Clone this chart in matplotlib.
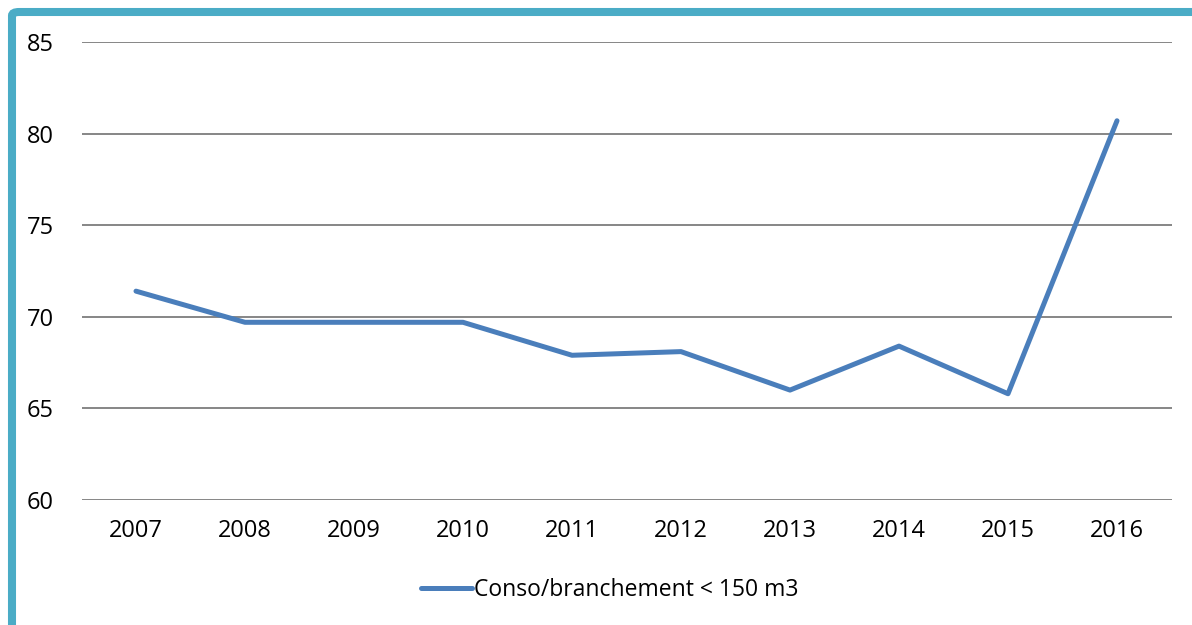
import matplotlib.pyplot as plt
from matplotlib.patches import FancyBboxPatch

years = ["2007", "2008", "2009", "2010", "2011", "2012", "2013", "2014", "2015", "2016"]
conso = [71.4, 69.7, 69.7, 69.7, 67.9, 68.1, 66.0, 68.4, 65.8, 80.7]
yticks = [60, 65, 70, 75, 80, 85]

W, H = 1192, 625
fig = plt.figure(figsize=(W / 100, H / 100), dpi=100)
plt.rcParams['font.family'] = ['Open Sans', 'DejaVu Sans']

# teal frame, only top and left visible
frame = FancyBboxPatch((12 / W, -0.2), 1.2, (H - 12) / H + 0.2,
                       boxstyle="round,pad=0,rounding_size=0.006",
                       transform=fig.transFigure, fill=False,
                       edgecolor="#4BACC6", linewidth=5.8, clip_on=False)
fig.patches.append(frame)

ax = fig.add_axes([81.5 / W, 1 - 500 / H, (1171.5 - 81.5) / W, (500 - 42) / H])
x = range(len(years))
ax.plot(x, conso, color="#4A7EBB", linewidth=3.6, solid_capstyle="round",
        label="Conso/branchement < 150 m3")
ax.set_xlim(-0.5, len(years) - 0.5)
ax.set_ylim(60, 85)
ax.set_yticks(yticks)
ax.set_xticks(list(x))
ax.set_xticklabels(years)
ax.grid(axis="y", color="#868686", linewidth=1.4)
ax.set_axisbelow(True)
for s in ax.spines.values():
    s.set_visible(False)
ax.tick_params(length=0, labelsize=17, colors="black")
ax.tick_params(axis="y", pad=20)
ax.tick_params(axis="x", pad=14)

fig.legend(loc="center", bbox_to_anchor=(610 / W, 1 - 590 / H), frameon=False,
           fontsize=16.5, handlelength=2.2, handletextpad=0.1)

fig.savefig("out.png", dpi=100)
